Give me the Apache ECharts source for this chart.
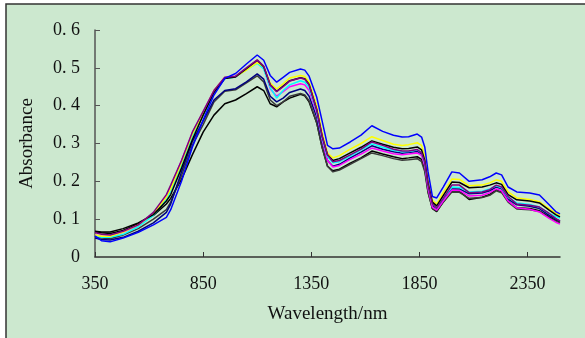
<!DOCTYPE html>
<html>
<head>
<meta charset="utf-8">
<script src="https://cdn.jsdelivr.net/npm/echarts@6/dist/echarts.min.js"></script>
<style>
html,body{margin:0;padding:0;background:#ffffff;}
#chart{width:585px;height:338px;}
</style>
</head>
<body>
<div id="chart"></div>
<script>
const wavelengths = [350,380,420,480,550,620,680,700,750,800,850,900,950,1000,1050,1100,1130,1160,1190,1220,1250,1300,1320,1340,1375,1400,1425,1450,1480,1530,1580,1630,1680,1730,1770,1800,1840,1860,1875,1890,1910,1930,1960,2000,2035,2080,2140,2175,2205,2230,2260,2300,2360,2405,2450,2480,2500];

const blueValues = [.056,.043,.040,.050,.065,.085,.105,.125,.200,.290,.362,.428,.472,.485,.510,.534,.520,.480,.462,.475,.488,.497,.494,.478,.423,.360,.295,.286,.288,.304,.322,.347,.332,.322,.317,.318,.325,.317,.290,.225,.160,.156,.185,.225,.222,.200,.204,.212,.222,.217,.185,.172,.169,.164,.138,.120,.114];
const yellowValues = [.058,.055,.055,.066,.085,.115,.158,.180,.250,.325,.380,.440,.474,.477,.494,.514,.503,.460,.444,.458,.473,.480,.477,.462,.400,.330,.275,.262,.268,.285,.300,.318,.308,.298,.295,.297,.302,.295,.265,.200,.150,.140,.170,.206,.205,.188,.190,.196,.204,.200,.172,.156,.152,.146,.128,.116,.111];
const purpleValues = [.065,.060,.058,.068,.085,.118,.165,.190,.255,.330,.385,.440,.475,.478,.500,.521,.505,.455,.437,.450,.465,.473,.470,.455,.390,.320,.270,.252,.255,.270,.285,.304,.295,.285,.280,.280,.284,.275,.250,.190,.140,.130,.155,.190,.190,.170,.172,.178,.190,.185,.160,.140,.137,.132,.115,.102,.095];
const blackValues = [.068,.066,.066,.075,.090,.112,.148,.165,.235,.310,.375,.435,.472,.476,.498,.520,.503,.455,.438,.452,.466,.474,.471,.456,.390,.320,.270,.255,.260,.275,.290,.307,.298,.290,.286,.287,.291,.283,.255,.195,.145,.135,.162,.198,.197,.183,.185,.190,.196,.192,.165,.151,.148,.143,.124,.112,.106];
const cyanValues = [.057,.052,.052,.060,.080,.110,.152,.175,.245,.320,.375,.435,.472,.476,.495,.512,.497,.448,.420,.440,.455,.466,.462,.448,.385,.315,.265,.249,.252,.267,.283,.299,.290,.282,.278,.279,.283,.275,.248,.190,.140,.130,.155,.185,.184,.172,.174,.180,.188,.183,.158,.143,.139,.132,.115,.107,.103];
const magentaValues = [.058,.054,.055,.066,.083,.115,.160,.185,.255,.328,.382,.440,.474,.477,.496,.516,.500,.445,.425,.437,.450,.458,.455,.440,.380,.310,.255,.238,.242,.258,.272,.288,.280,.273,.270,.272,.275,.268,.240,.180,.132,.124,.148,.177,.176,.161,.163,.170,.180,.175,.148,.130,.126,.119,.102,.092,.087];
const navyValues = [.050,.046,.045,.052,.068,.090,.118,.140,.225,.305,.360,.415,.440,.445,.463,.484,.470,.425,.410,.420,.435,.444,.440,.425,.370,.305,.255,.240,.245,.262,.277,.294,.285,.278,.274,.276,.279,.272,.245,.185,.136,.128,.152,.180,.180,.167,.169,.175,.185,.180,.153,.138,.134,.128,.110,.100,.095];
const grayValues = [.055,.050,.048,.058,.075,.100,.125,.145,.215,.295,.350,.410,.438,.442,.460,.479,.463,.415,.400,.410,.425,.432,.428,.413,.355,.290,.240,.225,.230,.245,.260,.275,.268,.260,.256,.257,.260,.252,.225,.170,.128,.122,.145,.172,.171,.155,.157,.163,.175,.170,.145,.127,.125,.120,.104,.095,.090];
const black2Values = [.066,.064,.062,.070,.088,.110,.140,.155,.205,.270,.330,.375,.405,.415,.432,.450,.440,.405,.397,.410,.420,.430,.426,.410,.355,.290,.240,.228,.232,.248,.262,.280,.272,.265,.260,.262,.265,.258,.230,.172,.128,.120,.145,.175,.174,.152,.158,.165,.178,.172,.148,.130,.128,.122,.106,.097,.092];

const xTickValues = [350,850,1350,1850,2350];
const yTickLabels = ['0','0. 1','0. 2','0. 3','0. 4','0. 5','0. 6'];
const xTitle = 'Wavelength/nm';
const yTitle = 'Absorbance';

const seriesDefs = [
  {name:'s9', values: black2Values, color:'#000000'},
  {name:'s8', values: grayValues, color:'#3a3a3a'},
  {name:'s7', values: navyValues, color:'#000080'},
  {name:'s6', values: magentaValues, color:'#ff00ff'},
  {name:'s5', values: cyanValues, color:'#00ffff'},
  {name:'s2', values: yellowValues, color:'#ffff00'},
  {name:'s4', values: blackValues, color:'#000000'},
  {name:'s3', values: purpleValues, color:'#800080'},
  {name:'s1', values: blueValues, color:'#0000ff'}
];

const chart = echarts.init(document.getElementById('chart'), null, {renderer:'canvas'});
const font = '"Liberation Serif", "DejaVu Serif", serif';

chart.setOption({
  animation: false,
  backgroundColor: '#ffffff',
  graphic: [{
    type: 'rect', z: -10, silent: true,
    shape: {x: 6, y: 4, width: 620, height: 400},
    style: {fill: '#cce8cf', stroke: '#333333', lineWidth: 1.5}
  }],
  grid: {left: 95, top: 30, right: 25, bottom: 81, containLabel: false},
  xAxis: {
    type: 'value', min: 350, max: 2500,
    name: xTitle, nameLocation: 'middle', nameGap: 48,
    nameTextStyle: {fontFamily: font, fontSize: 19, color: '#111'},
    axisLine: {lineStyle: {color: '#333333', width: 1.5}},
    axisTick: {inside: true, length: 5, customValues: xTickValues, lineStyle: {color: '#333333', width: 1}},
    axisLabel: {customValues: xTickValues, margin: 18, fontFamily: font, fontSize: 18, color: '#111',
      formatter: function (v) { return String(v); }},
    splitLine: {show: false}
  },
  yAxis: {
    type: 'value', min: 0, max: 0.6, interval: 0.1,
    name: yTitle, nameLocation: 'middle', nameGap: 58,
    nameTextStyle: {fontFamily: font, fontSize: 19, color: '#111'},
    axisLine: {show: true, lineStyle: {color: '#555555', width: 1.5}},
    axisTick: {show: true, inside: true, length: 5, lineStyle: {color: '#555555'}},
    axisLabel: {margin: 15, fontFamily: font, fontSize: 18, color: '#111',
      formatter: function (v) { return yTickLabels[Math.round(v * 10)]; }},
    splitLine: {show: false}
  },
  series: seriesDefs.map(function (d) {
    return {
      name: d.name, type: 'line', showSymbol: false, smooth: false,
      lineStyle: {color: d.color, width: 1.5},
      itemStyle: {color: d.color},
      data: wavelengths.map(function (w, i) { return [w, d.values[i]]; })
    };
  })
});
</script>
</body>
</html>
